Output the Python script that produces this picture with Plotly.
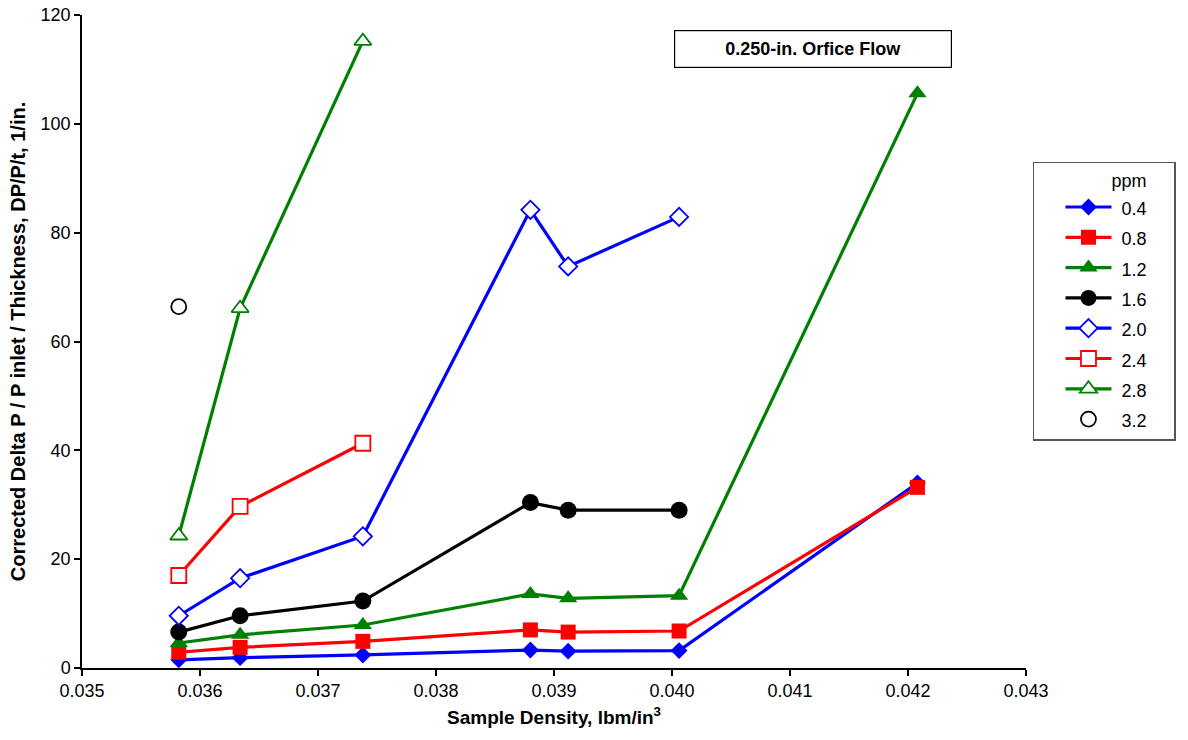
import plotly.graph_objects as go

density = [0.03582, 0.03634, 0.03738, 0.03880, 0.03912, 0.04006, 0.04208]

ppm_04 = [1.5, 1.9, 2.4, 3.3, 3.1, 3.2, 34.0]
ppm_08 = [2.9, 3.8, 4.9, 7.0, 6.6, 6.8, 33.2]
ppm_12 = [4.6, 6.1, 7.9, 13.6, 12.8, 13.3, 105.6]
ppm_16 = [6.6, 9.6, 12.3, 30.4, 29.0, 29.0]
ppm_20 = [9.6, 16.5, 24.2, 84.2, 73.8, 82.9]
ppm_24 = [17.0, 29.7, 41.3]
ppm_28 = [24.3, 66.1, 115.2]
ppm_32 = [66.4]

ppm_labels = ["0.4", "0.8", "1.2", "1.6", "2.0", "2.4", "2.8", "3.2"]
x_ticks = [0.035, 0.036, 0.037, 0.038, 0.039, 0.040, 0.041, 0.042, 0.043]
y_ticks = [0, 20, 40, 60, 80, 100, 120]

BLUE = "#0000FF"
RED = "#FF0000"
GREEN = "#008000"
BLACK = "#000000"

fig = go.Figure()

def add(y, name, color, symbol, size, filled, line=True):
    n = len(y)
    marker = dict(symbol=symbol, size=size)
    if filled:
        marker.update(color=color, line=dict(width=0))
    else:
        marker.update(color="white", line=dict(color=color, width=1.8))
    fig.add_trace(go.Scatter(
        x=density[:n], y=y,
        name=f'<span style="font-size:18px">&nbsp;{name}</span>',
        mode="lines+markers" if line else "markers",
        line=dict(color=color, width=3.2),
        marker=marker,
    ))

add(ppm_04, ppm_labels[0], BLUE, "diamond", 13, True)
add(ppm_08, ppm_labels[1], RED, "square", 15, True)
add(ppm_12, ppm_labels[2], GREEN, "triangle-up", 16, True)
add(ppm_16, ppm_labels[3], BLACK, "circle", 17, True)
add(ppm_20, ppm_labels[4], BLUE, "diamond", 14, False)
add(ppm_24, ppm_labels[5], RED, "square", 15, False)
add(ppm_28, ppm_labels[6], GREEN, "triangle-up", 15, False)
add(ppm_32, ppm_labels[7], BLACK, "circle", 15, False, line=False)

FONT = "Liberation Sans, Arial, sans-serif"

fig.update_layout(
    width=1188, height=740,
    margin=dict(l=82, r=160, t=15, b=72),
    paper_bgcolor="white", plot_bgcolor="white",
    font=dict(family=FONT, size=18, color="black"),
    showlegend=True,
    legend=dict(
        title=dict(text="&nbsp;" * 15 + "ppm" + "&nbsp;" * 5, font=dict(size=18), side="top"),
        x=1.0074, xanchor="left", y=0.775, yanchor="top",
        bordercolor="#555555", borderwidth=1.5,
        font=dict(size=21), itemwidth=46, indentation=26,
        tracegroupgap=0, bgcolor="white",
    ),
    xaxis=dict(
        range=[0.035, 0.043], tickvals=x_ticks,
        ticktext=[f"{v:.3f}" for v in x_ticks],
        showline=True, linecolor="black", linewidth=1.5,
        ticks="outside", ticklen=6, tickcolor="black", tickwidth=1.5,
        showgrid=False, zeroline=False, automargin=False,
        tickfont=dict(size=18),
        title=dict(text="<b>Sample Density, lbm/in<sup>3</sup></b>", font=dict(size=19), standoff=10),
    ),
    yaxis=dict(
        range=[0, 120], tickvals=y_ticks,
        showline=True, linecolor="black", linewidth=1.5,
        ticks="outside", ticklen=6, tickcolor="black", tickwidth=1.5,
        showgrid=False, zeroline=False, automargin=False,
        tickfont=dict(size=18),
        title=dict(text="<b>Corrected Delta P / P inlet / Thickness, DP/P/t, 1/in.</b>", font=dict(size=20), standoff=10),
    ),
    annotations=[dict(
        text="<b>0.250-in. Orfice Flow</b>",
        xref="paper", yref="paper", x=0.7745, y=0.948,
        xanchor="center", yanchor="middle",
        showarrow=False, font=dict(size=18),
        bordercolor="black", borderwidth=1.2, borderpad=4,
        width=268, height=28, bgcolor="white",
    )],
)

fig.write_html("out.html", config={"displayModeBar": False},
               post_script="document.body.style.margin='0';")
